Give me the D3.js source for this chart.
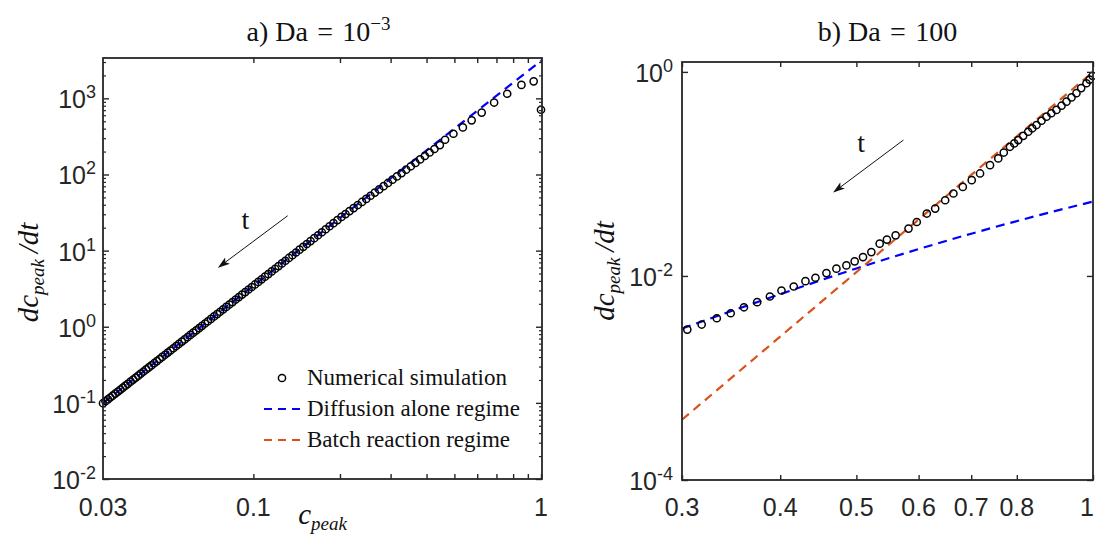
<!DOCTYPE html>
<html>
<head>
<meta charset="utf-8">
<script src="https://cdn.jsdelivr.net/npm/d3@7"></script>
<style>
  body { margin: 0; background: #fff; }
</style>
</head>
<body>
<div id="my_dataviz"></div>
<script>
// ---- values ----

// a) Da = 1e-3 : numerical simulation (c_peak, dc_peak/dt)
var cA = [0.030, 0.0306, 0.0312, 0.0318, 0.0324, 0.0331, 0.0338, 0.0345, 0.0352, 0.0359,
  0.0366, 0.0374, 0.0382, 0.039, 0.0398, 0.0406, 0.0415, 0.0424, 0.0433, 0.0442,
  0.0452, 0.0462, 0.0472, 0.0482, 0.0493, 0.0504, 0.0515, 0.0527, 0.0539, 0.0551,
  0.0564, 0.0577, 0.059, 0.0604, 0.0618, 0.0633, 0.0648, 0.0663, 0.0679, 0.0695,
  0.0712, 0.073, 0.0748, 0.0766, 0.0785, 0.0805, 0.0825, 0.0846, 0.0868, 0.089,
  0.0913, 0.0937, 0.0962, 0.0987, 0.1013, 0.104, 0.1068, 0.1097, 0.1127, 0.1158,
  0.119, 0.1223, 0.1257, 0.1292, 0.1329, 0.1367, 0.1406, 0.1447, 0.149, 0.1534,
  0.158, 0.1628, 0.1678, 0.173, 0.1784, 0.184, 0.1899, 0.196, 0.2024, 0.209,
  0.2159, 0.2231, 0.2307, 0.2386, 0.2468, 0.2554, 0.2644, 0.2738, 0.2836, 0.2938,
  0.3045, 0.3157, 0.3274, 0.3397, 0.3526, 0.366, 0.38, 0.3946, 0.41, 0.426,
  0.445, 0.464, 0.496, 0.535, 0.574, 0.622, 0.687, 0.763, 0.855, 0.943, 1.0];
var rateA = [0.099, 0.105, 0.1111, 0.1176, 0.1242, 0.1323, 0.1407, 0.1495, 0.1586, 0.1681,
  0.178, 0.1897, 0.202, 0.2147, 0.2279, 0.2417, 0.2579, 0.2748, 0.2923, 0.3107,
  0.3318, 0.354, 0.3771, 0.4012, 0.4287, 0.4575, 0.4877, 0.5221, 0.5578, 0.5952,
  0.6377, 0.682, 0.7286, 0.7806, 0.8353, 0.8966, 0.9607, 1.028, 1.103, 1.181,
  1.268, 1.366, 1.467, 1.574, 1.692, 1.822, 1.96, 2.11, 2.276, 2.451,
  2.642, 2.853, 3.083, 3.326, 3.592, 3.88, 4.197, 4.544, 4.919, 5.329,
  5.775, 6.26, 6.788, 7.362, 8.003, 8.695, 9.448, 10.28, 11.21, 12.22,
  13.33, 14.56, 15.92, 17.42, 19.08, 20.9, 22.94, 25.18, 27.69, 30.18,
  33.02, 36.16, 39.67, 43.54, 47.8, 52.55, 57.83, 63.68, 70.19, 77.39,
  85.41, 94.39, 104.3, 115.6, 128.1, 142.0, 157.6, 174.9, 194.3, 216.0,
  243, 286, 343, 415, 514, 650, 881, 1149, 1503, 1672, 708];
// a) diffusion alone regime (straight line in log-log)
var diffCA = [0.03, 1.0];
var diffRateA = [0.099, 3100];

// b) Da = 100 : numerical simulation
var cB = [0.3047, 0.3178, 0.3322, 0.346, 0.3597, 0.3739, 0.3881, 0.4015, 0.4162, 0.4307,
  0.4435, 0.458, 0.4716, 0.4856, 0.4975, 0.5098, 0.5224, 0.5353, 0.5468, 0.5609,
  0.5825, 0.5968, 0.6146, 0.6298, 0.6485, 0.6644, 0.6829, 0.701, 0.7183, 0.7396,
  0.7577, 0.770, 0.784, 0.794, 0.8033, 0.815, 0.8271, 0.837, 0.8475, 0.860,
  0.8726, 0.885, 0.8985, 0.912, 0.9252, 0.939, 0.9526, 0.966, 0.9809, 0.99, 0.999];
var rateB = [0.00298, 0.00334, 0.00385, 0.00431, 0.00493, 0.00553, 0.00629, 0.0072, 0.00788, 0.00889,
  0.0096, 0.01066, 0.01178, 0.01269, 0.0139, 0.01531, 0.01714, 0.02071, 0.0227, 0.025,
  0.0291, 0.0338, 0.0409, 0.0457, 0.0552, 0.0643, 0.0746, 0.0869, 0.101, 0.1219,
  0.1419, 0.162, 0.1845, 0.199, 0.2147, 0.236, 0.259, 0.28, 0.3013, 0.332,
  0.3638, 0.393, 0.4236, 0.466, 0.5106, 0.562, 0.618, 0.694, 0.7742, 0.84, 0.914];
// b) diffusion alone regime
var diffCB = [0.3, 0.4, 0.5, 0.6, 0.7, 0.85, 1.0];
var diffRateB = [0.00305, 0.00663, 0.01184, 0.01834, 0.02595, 0.03903, 0.0536];
// b) batch reaction regime
var batchCB = [0.3, 1.0];
var batchRateB = [3.9e-4, 1.0];

// ticks
var xLabelsA = [0.03, 0.1, 1];
var xTicksA = [0.1, 0.2, 0.3, 0.4, 0.5, 0.6, 0.7, 0.8, 0.9, 1];
var yExpA = [-2, -1, 0, 1, 2, 3];
var xTicksB = [0.3, 0.4, 0.5, 0.6, 0.7, 0.8, 1];
var yExpB = [-4, -2, 0];

var legendLabels = ["Numerical simulation", "Diffusion alone regime", "Batch reaction regime"];

// time arrows (start c, start rate, end c, end rate) and "t" label position
var arrowA = [0.1316, 28.7, 0.0758, 6.07], tLabelA = [0.0938, 19.3];
var arrowB = [0.5739, 0.2147, 0.4682, 0.0666], tLabelB = [0.5071, 0.1636];

// ---- drawing ----
var axisCol = "#262626",
    blue = "#0000ff",
    orange = "#d95319",
    serif = "'Liberation Serif', 'Times New Roman', serif",
    sans = "'Liberation Sans', Arial, Helvetica, sans-serif";

var svg = d3.select("#my_dataviz")
  .append("svg")
    .attr("width", 1095)
    .attr("height", 536)
    .style("background", "#fff");

var defs = svg.append("defs");
defs.append("marker")
    .attr("id", "head")
    .attr("markerUnits", "userSpaceOnUse")
    .attr("viewBox", "0 0 12 8")
    .attr("refX", 11).attr("refY", 4)
    .attr("markerWidth", 12).attr("markerHeight", 8)
    .attr("orient", "auto")
  .append("path")
    .attr("d", "M0,0 L12,4 L0,8 L3,4 Z")
    .attr("fill", "#111");

function logLabel(g, x, y, exp, anchor) {
  var t = g.append("text")
      .attr("x", x).attr("y", y + 10)
      .attr("text-anchor", anchor)
      .attr("font-family", sans)
      .attr("font-size", 25)
      .attr("fill", axisCol);
  t.append("tspan").text("10");
  t.append("tspan").attr("dy", -10).attr("font-size", 18).text(String(exp));
}

function ylabel(x, y) {
  var t = svg.append("text")
      .attr("transform", "translate(" + x + "," + y + ") rotate(-90)")
      .attr("text-anchor", "middle")
      .attr("font-family", serif)
      .attr("font-style", "italic")
      .attr("font-size", 29)
      .attr("fill", "#111");
  t.append("tspan").text("dc");
  t.append("tspan").attr("dy", 6).attr("font-size", 19).text("peak");
  t.append("tspan").attr("dy", -6).text("\u2009/dt");
}

function frame(g, x, y, w, h, xt, yt, xLen, yMinor) {
  // inward ticks on all four sides
  [["b", d3.axisBottom(x), "translate(0," + h + ")", xt],
   ["t", d3.axisTop(x), "translate(0,0)", xt],
   ["l", d3.axisLeft(y), "translate(0,0)", yt],
   ["r", d3.axisRight(y), "translate(" + w + ",0)", yt]].forEach(function(a) {
    g.append("g")
      .attr("transform", a[2])
      .call(a[1].tickValues(a[3]).tickSizeInner(-(a[0] == "b" || a[0] == "t" ? xLen : 6)).tickSizeOuter(0).tickFormat(""))
      .call(function(s) { s.select(".domain").remove(); })
      .selectAll("line").attr("stroke", axisCol).attr("stroke-width", 1.4);
  });
  if (yMinor) {
    [[d3.axisLeft(y), "translate(0,0)"], [d3.axisRight(y), "translate(" + w + ",0)"]].forEach(function(a) {
      g.append("g")
        .attr("transform", a[1])
        .call(a[0].tickValues(yMinor).tickSizeInner(-3).tickSizeOuter(0).tickFormat(""))
        .call(function(s) { s.select(".domain").remove(); })
        .selectAll("line").attr("stroke", axisCol).attr("stroke-width", 1.2);
    });
  }
  g.append("rect")
    .attr("width", w).attr("height", h)
    .attr("fill", "none")
    .attr("stroke", axisCol)
    .attr("stroke-width", 1.8);
}

function drawLine(g, xs, ys, x, y, col) {
  g.append("path")
    .datum(d3.zip(xs, ys))
    .attr("clip-path", "url(#" + g.attr("data-clip") + ")")
    .attr("fill", "none")
    .attr("stroke", col)
    .attr("stroke-width", 2.2)
    .attr("stroke-dasharray", "9,6")
    .attr("d", d3.line()
      .curve(d3.curveMonotoneX)
      .x(function(d) { return x(d[0]); })
      .y(function(d) { return y(d[1]); }));
}

function drawCircles(g, xs, ys, x, y) {
  g.append("g").selectAll("circle")
    .data(d3.zip(xs, ys))
    .enter().append("circle")
      .attr("cx", function(d) { return x(d[0]); })
      .attr("cy", function(d) { return y(d[1]); })
      .attr("r", 3.6)
      .attr("fill", "none")
      .attr("stroke", "#000")
      .attr("stroke-width", 1.5);
}

function drawArrow(g, a, lbl, x, y) {
  g.append("line")
    .attr("x1", x(a[0])).attr("y1", y(a[1]))
    .attr("x2", x(a[2])).attr("y2", y(a[3]))
    .attr("stroke", "#111")
    .attr("stroke-width", 1)
    .attr("marker-end", "url(#head)");
  g.append("text")
    .attr("x", x(lbl[0])).attr("y", y(lbl[1]))
    .attr("text-anchor", "middle")
    .attr("font-family", serif)
    .attr("font-size", 28)
    .attr("fill", "#111")
    .text("t");
}

function title(x, main, sup) {
  var t = svg.append("text")
      .attr("x", x).attr("y", 41)
      .attr("text-anchor", "middle")
      .attr("font-family", serif).attr("font-size", 28)
      .attr("fill", "#111");
  t.append("tspan").text(main);
  if (sup) t.append("tspan").attr("dy", -11).attr("font-size", 19).text(sup);
}

// ---------- panel a ----------
var mA = {left: 103, top: 58, w: 439, h: 421};
var xA = d3.scaleLog().domain([0.03, 1]).range([0, 438]);
var yA = d3.scaleLog().domain([1e-2, Math.pow(10, 3.53)]).range([mA.h, 0]);
var gA = svg.append("g")
    .attr("transform", "translate(" + mA.left + "," + mA.top + ")")
    .attr("data-clip", "clipA");
defs.append("clipPath").attr("id", "clipA")
  .append("rect").attr("width", mA.w).attr("height", mA.h);

var yMinorA = [];
yExpA.forEach(function(e) {
  for (var k = 2; k <= 9; k++) {
    var v = k * Math.pow(10, e);
    if (v < yA.domain()[1]) yMinorA.push(v);
  }
});

drawLine(gA, diffCA, diffRateA, xA, yA, blue);
drawCircles(gA, cA, rateA, xA, yA);
frame(gA, xA, yA, mA.w, mA.h, xTicksA, yExpA.map(function(e) { return Math.pow(10, e); }), 5, yMinorA);
drawArrow(gA, arrowA, tLabelA, xA, yA);

xLabelsA.forEach(function(v) {
  gA.append("text")
    .attr("x", xA(v)).attr("y", mA.h + 37)
    .attr("text-anchor", "middle")
    .attr("font-family", sans).attr("font-size", 25)
    .attr("fill", axisCol)
    .text(v);
});
yExpA.forEach(function(e) { logLabel(gA, -7, yA(Math.pow(10, e)), e, "end"); });

// legend (no box)
var leg = gA.append("g").attr("transform", "translate(161,320)");
legendLabels.forEach(function(name, i) {
  var row = leg.append("g").attr("transform", "translate(0," + (i * 31) + ")");
  if (i == 0) {
    row.append("circle").attr("cx", 18).attr("cy", 0).attr("r", 3.6)
      .attr("fill", "none").attr("stroke", "#000").attr("stroke-width", 1.5);
  } else {
    row.append("line").attr("x1", 0).attr("x2", 39).attr("y1", 0).attr("y2", 0)
      .attr("stroke", i == 1 ? blue : orange).attr("stroke-width", 2.2)
      .attr("stroke-dasharray", "8,6");
  }
  row.append("text")
    .attr("x", 43).attr("y", 7)
    .attr("font-family", serif).attr("font-size", 23)
    .attr("fill", "#111")
    .text(name);
});

title(mA.left + mA.w / 2 - 4, "a) Da\u2004=\u200410", "\u22123");

var xl = svg.append("text")
    .attr("x", mA.left + mA.w / 2).attr("y", 524)
    .attr("text-anchor", "middle")
    .attr("font-family", serif).attr("font-style", "italic")
    .attr("font-size", 29).attr("fill", "#111");
xl.append("tspan").text("c");
xl.append("tspan").attr("dy", 6).attr("font-size", 19).text("peak");

ylabel(38, mA.top + mA.h / 2 + 4);

// ---------- panel b ----------
var mB = {left: 682, top: 62, w: 411, h: 418};
var xB = d3.scaleLog().domain([0.3, 1]).range([0, mB.w]);
var yB = d3.scaleLog().domain([1e-4, 1.25]).range([mB.h, 0]);
var gB = svg.append("g")
    .attr("transform", "translate(" + mB.left + "," + mB.top + ")")
    .attr("data-clip", "clipB");
defs.append("clipPath").attr("id", "clipB")
  .append("rect").attr("width", mB.w).attr("height", mB.h);

drawLine(gB, diffCB, diffRateB, xB, yB, blue);
drawLine(gB, batchCB, batchRateB, xB, yB, orange);
drawCircles(gB, cB, rateB, xB, yB);
frame(gB, xB, yB, mB.w, mB.h, xTicksB, yExpB.map(function(e) { return Math.pow(10, e); }), 5, null);
drawArrow(gB, arrowB, tLabelB, xB, yB);

xTicksB.forEach(function(v, i) {
  var last = i == xTicksB.length - 1;
  gB.append("text")
    .attr("x", last ? xB(v) + 1 : xB(v)).attr("y", mB.h + 36)
    .attr("text-anchor", last ? "end" : "middle")
    .attr("font-family", sans).attr("font-size", 25)
    .attr("fill", axisCol)
    .text(v);
});
yExpB.forEach(function(e) { logLabel(gB, -9, yB(Math.pow(10, e)), e, "end"); });

title(mB.left + mB.w / 2, "b) Da\u2004=\u2004100", null);

ylabel(614, mB.top + mB.h / 2);
</script>
</body>
</html>
